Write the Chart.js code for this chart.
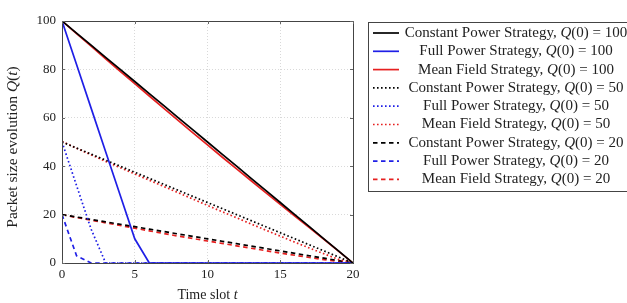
<!DOCTYPE html>
<html>
<head>
<meta charset="utf-8">
<script src="https://cdn.jsdelivr.net/npm/chart.js@4"></script>
<style>
  html, body { margin: 0; padding: 0; background: #fff; overflow: hidden; }
  #wrap { width: 627px; height: 303px; }
</style>
</head>
<body>
<div id="wrap"><canvas id="queue-chart" width="627" height="303"></canvas></div>
<script>
var timeSlots = [0, 1, 2, 3, 4, 5, 6, 7, 8, 9, 10, 11, 12, 13, 14, 15, 16, 17, 18, 19, 20];

var constant100 = [100, 95, 90, 85, 80, 75, 70, 65, 60, 55, 50, 45, 40, 35, 30, 25, 20, 15, 10, 5, 0];
var full100 = [100, 82, 64, 46, 28, 10, 0, 0, 0, 0, 0, 0, 0, 0, 0, 0, 0, 0, 0, 0, 0];
var mean100 = [100, 94.8, 89.6, 84.4, 79.2, 74.1, 69.0, 63.9, 58.8, 53.8, 48.8, 43.8, 38.9, 34.0, 29.1, 24.2, 19.4, 14.6, 9.8, 4.9, 0];
var constant50 = [50, 47.5, 45, 42.5, 40, 37.5, 35, 32.5, 30, 27.5, 25, 22.5, 20, 17.5, 15, 12.5, 10, 7.5, 5, 2.5, 0];
var full50 = [50, 32, 14, 0, 0, 0, 0, 0, 0, 0, 0, 0, 0, 0, 0, 0, 0, 0, 0, 0, 0];
var mean50 = [50.3, 47.4, 44.7, 42.0, 39.4, 36.8, 34.2, 31.6, 29.0, 26.4, 23.8, 21.2, 18.7, 16.1, 13.6, 11.1, 8.6, 6.2, 3.8, 1.5, 0];
var constant20 = [20, 19, 18, 17, 16, 15, 14, 13, 12, 11, 10, 9, 8, 7, 6, 5, 4, 3, 2, 1, 0];
var full20 = [20, 3, 0, 0, 0, 0, 0, 0, 0, 0, 0, 0, 0, 0, 0, 0, 0, 0, 0, 0, 0];
var mean20 = [20, 18.8, 17.7, 16.6, 15.5, 14.4, 13.3, 12.2, 11.1, 10.1, 9.1, 8.1, 7.1, 6.1, 5.1, 4.1, 3.2, 2.3, 1.4, 0.6, 0];

var xTicks = [0, 5, 10, 15, 20];
var yTicks = [0, 20, 40, 60, 80, 100];

var SERIF = '"Liberation Serif", "DejaVu Serif", serif';
var BLACK = '#000000';
var BLUE = '#1f1fe6';
var RED = '#e62020';
var DOTTED = [1.6, 2.4];
var DASHED = [4.5, 3.5];

function pts(vals) {
  return timeSlots.map(function(t, i) { return { x: t, y: vals[i] }; });
}

function series(label, vals, color, dash) {
  return {
    label: label,
    data: pts(vals),
    borderColor: color,
    backgroundColor: color,
    borderWidth: 1.7,
    borderDash: dash,
    pointRadius: 0,
    tension: 0,
    fill: false
  };
}

// draw text where Q and t of the math parts are italic
function drawMixed(ctx, parts, x, y, size, align) {
  var widths = parts.map(function(p) {
    ctx.font = (p[1] ? 'italic ' : '') + size + 'px ' + SERIF;
    return ctx.measureText(p[0]).width;
  });
  var total = widths.reduce(function(a, b) { return a + b; }, 0);
  var cx = align === 'center' ? x - total / 2 : x;
  ctx.textAlign = 'left';
  ctx.textBaseline = 'middle';
  parts.forEach(function(p, i) {
    ctx.font = (p[1] ? 'italic ' : '') + size + 'px ' + SERIF;
    ctx.fillText(p[0], cx, y);
    cx += widths[i];
  });
}

function labelParts(label) {
  var i = label.indexOf('Q');
  return [[label.slice(0, i), false], ['Q', true], [label.slice(i + 1), false]];
}

var decorations = {
  id: 'decorations',
  afterDraw: function(chart) {
    var ctx = chart.ctx;
    var a = chart.chartArea;
    var xs = chart.scales.x, ys = chart.scales.y;
    ctx.save();

    // frame
    ctx.strokeStyle = '#444';
    ctx.lineWidth = 1;
    ctx.setLineDash([]);
    ctx.strokeRect(Math.round(a.left) + 0.5, Math.round(a.top) + 0.5,
      Math.round(a.right - a.left), Math.round(a.bottom - a.top));

    // inward tick marks
    ctx.strokeStyle = '#666';
    ctx.beginPath();
    xTicks.forEach(function(t) {
      var px = Math.round(xs.getPixelForValue(t)) + 0.5;
      ctx.moveTo(px, a.bottom); ctx.lineTo(px, a.bottom - 3);
      ctx.moveTo(px, a.top); ctx.lineTo(px, a.top + 3);
    });
    yTicks.forEach(function(v) {
      var py = Math.round(ys.getPixelForValue(v)) + 0.5;
      ctx.moveTo(a.left, py); ctx.lineTo(a.left + 3, py);
      ctx.moveTo(a.right, py); ctx.lineTo(a.right - 3, py);
    });
    ctx.stroke();

    // axis titles
    ctx.fillStyle = '#222';
    drawMixed(ctx, [['Time slot ', false], ['t', true]], (a.left + a.right) / 2, 295, 14, 'center');
    ctx.save();
    ctx.translate(13, 147);
    ctx.rotate(-Math.PI / 2);
    drawMixed(ctx, [['Packet size evolution ', false], ['Q', true], ['(', false], ['t', true], [')', false]], 0, 0, 15.5, 'center');
    ctx.restore();

    // legend
    var lx = 368, ly = 22, rowH = 18.3;
    var sets = chart.data.datasets;
    ctx.fillStyle = '#fff';
    ctx.fillRect(lx, ly, 300, rowH * sets.length + 4);
    ctx.strokeStyle = '#444';
    ctx.lineWidth = 1;
    ctx.strokeRect(lx + 0.5, ly + 0.5, 300, Math.round(rowH * sets.length + 4));
    sets.forEach(function(ds, i) {
      var y = ly + 11 + i * rowH;
      ctx.strokeStyle = ds.borderColor;
      ctx.lineWidth = ds.borderWidth;
      ctx.setLineDash(ds.borderDash || []);
      ctx.beginPath();
      ctx.moveTo(lx + 5, y); ctx.lineTo(lx + 31, y);
      ctx.stroke();
      ctx.setLineDash([]);
      ctx.fillStyle = '#222';
      drawMixed(ctx, labelParts(ds.label), 516, y, 15, 'center');
    });
    ctx.restore();
  }
};

var config = {
  type: 'line',
  data: {
    datasets: [
      series('Constant Power Strategy, Q(0) = 100', constant100, BLACK, []),
      series('Full Power Strategy, Q(0) = 100', full100, BLUE, []),
      series('Mean Field Strategy, Q(0) = 100', mean100, RED, []),
      series('Constant Power Strategy, Q(0) = 50', constant50, BLACK, DOTTED),
      series('Full Power Strategy, Q(0) = 50', full50, BLUE, DOTTED),
      series('Mean Field Strategy, Q(0) = 50', mean50, RED, DOTTED),
      series('Constant Power Strategy, Q(0) = 20', constant20, BLACK, DASHED),
      series('Full Power Strategy, Q(0) = 20', full20, BLUE, DASHED),
      series('Mean Field Strategy, Q(0) = 20', mean20, RED, DASHED)
    ]
  },
  options: {
    responsive: false,
    animation: false,
    layout: {
      padding: { left: 0, top: 21, right: 274, bottom: 0 }
    },
    plugins: {
      legend: { display: false },
      tooltip: { enabled: false }
    },
    scales: {
      x: {
        type: 'linear',
        min: 0,
        max: 20,
        afterFit: function(scale) { scale.height = 40; },
        afterBuildTicks: function(scale) {
          scale.ticks = xTicks.map(function(v) { return { value: v }; });
        },
        grid: { color: '#cfcfcf', drawTicks: false, lineWidth: 0.8 },
        border: { display: false, dash: [1, 2] },
        ticks: { padding: 4, color: '#222', font: { family: SERIF, size: 13 } }
      },
      y: {
        type: 'linear',
        min: 0,
        max: 100,
        afterFit: function(scale) { scale.width = 62; },
        afterBuildTicks: function(scale) {
          scale.ticks = yTicks.map(function(v) { return { value: v }; });
        },
        grid: { color: '#cfcfcf', drawTicks: false, lineWidth: 0.8 },
        border: { display: false, dash: [1, 2] },
        ticks: { padding: 6, color: '#222', font: { family: SERIF, size: 13 } }
      }
    }
  },
  plugins: [decorations]
};

var ctx = document.getElementById('queue-chart').getContext('2d');
var queueChart = new Chart(ctx, config);
</script>
</body>
</html>
